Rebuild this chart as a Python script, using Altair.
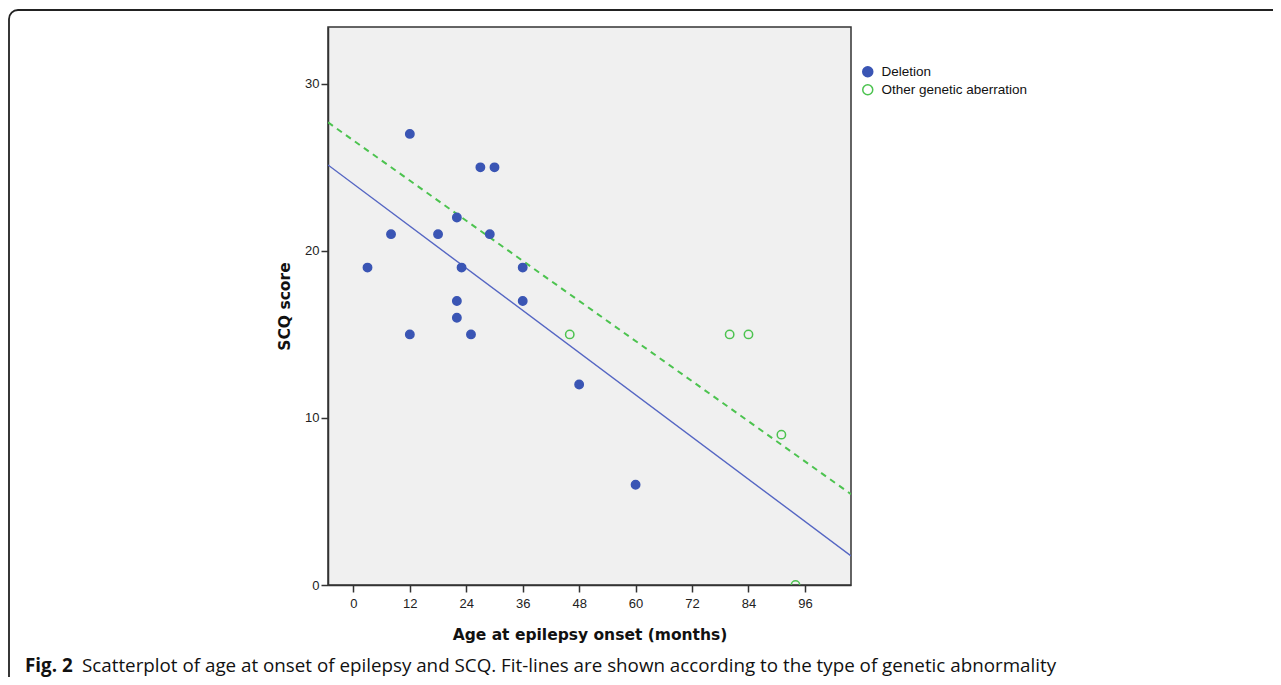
import altair as alt
import pandas as pd

# Data
del_x = [3, 8, 12, 12, 18, 22, 22, 22, 23, 25, 27, 30, 29, 36, 36, 48, 60]
del_y = [19, 21, 27, 15, 21, 22, 17, 16, 19, 15, 25, 25, 21, 19, 17, 12, 6]
oth_x = [46, 80, 84, 91, 94]
oth_y = [15, 15, 15, 9, 0]
groups = ["Deletion", "Other genetic aberration"]
x_ticks = [0, 12, 24, 36, 48, 60, 72, 84, 96]
y_ticks = [0, 10, 20, 30]
caption_bold = "Fig. 2"
caption_rest = ("Scatterplot of age at onset of epilepsy and SCQ. "
                "Fit-lines are shown according to the type of genetic abnormality")

BLUE = "#3A55B4"
GREEN = "#4CC34F"
LINE_BLUE = "#5566C3"

df = pd.DataFrame({
    "age": del_x + oth_x,
    "scq": del_y + oth_y,
    "group": [groups[0]] * len(del_x) + [groups[1]] * len(oth_x),
})

xdom = [-5.4, 105.8]
ydom = [0, 33.4]

xscale = alt.Scale(domain=xdom, nice=False, zero=False)
yscale = alt.Scale(domain=ydom, nice=False)

xaxis = alt.Axis(values=x_ticks, title="Age at epilepsy onset (months)", grid=False,
                 labelFont="Liberation Sans", labelFontSize=13, labelColor="#222",
                 titleFont="DejaVu Sans", titleFontWeight="bold", titleFontSize=15.5,
                 titleColor="#111", titlePadding=17, tickSize=7, tickColor="#333",
                 domainColor="#333", domainWidth=1.5, tickWidth=1.5, labelPadding=5)
yaxis = alt.Axis(values=y_ticks, title="SCQ score", grid=False,
                 labelFont="Liberation Sans", labelFontSize=13, labelColor="#222",
                 titleFont="DejaVu Sans", titleFontWeight="bold", titleFontSize=15.5,
                 titleColor="#111", titlePadding=12, tickSize=7, tickColor="#333",
                 domainColor="#333", domainWidth=1.5, tickWidth=1.5, labelPadding=2)

leg = alt.Legend(title=None, orient="none", legendX=533, legendY=38,
                 labelFont="Liberation Sans", labelFontSize=13.5,
                 labelColor="#111", symbolSize=100,
                 symbolStrokeWidth=1.5, rowPadding=1, labelOffset=7)

base = alt.Chart(df)

points = base.mark_point(size=70, strokeWidth=1.5, opacity=1, clip=True).encode(
    x=alt.X("age:Q", scale=xscale, axis=xaxis),
    y=alt.Y("scq:Q", scale=yscale, axis=yaxis),
    stroke=alt.Stroke("group:N", scale=alt.Scale(domain=groups, range=[BLUE, GREEN]),
                      legend=leg),
    fill=alt.Fill("group:N", scale=alt.Scale(domain=groups, range=[BLUE, "transparent"]),
                  legend=leg),
)

fit_del = base.transform_filter(alt.datum.group == groups[0]).transform_regression(
    "age", "scq", extent=xdom).mark_line(color=LINE_BLUE, strokeWidth=1.4, clip=True).encode(
    x=alt.X("age:Q", scale=xscale), y=alt.Y("scq:Q", scale=yscale))

fit_oth = base.transform_filter(alt.datum.group == groups[1]).transform_regression(
    "age", "scq", extent=xdom).mark_line(color=GREEN, strokeWidth=2, strokeDash=[6, 5],
                                          clip=True).encode(
    x=alt.X("age:Q", scale=xscale), y=alt.Y("scq:Q", scale=yscale))

cap_df = pd.DataFrame({"b": [caption_bold], "r": [caption_rest]})
cap_base = alt.Chart(cap_df)
cap1 = cap_base.mark_text(align="left", baseline="middle", font="Open Sans",
                          fontSize=18.8, fontWeight="bold", color="#111").encode(
    text="b:N", x=alt.value(25 - 328), y=alt.value(666 - 27))
cap2 = cap_base.mark_text(align="left", baseline="middle", font="Open Sans",
                          fontSize=18.8, color="#111").encode(
    text="r:N", x=alt.value(82 - 328), y=alt.value(666 - 27))
frame = cap_base.mark_rect(fill=None, stroke="#222", strokeWidth=1.8, cornerRadius=9).encode(
    x=alt.value(9 - 328), x2=alt.value(3000), y=alt.value(10 - 27), y2=alt.value(3000))

chart = alt.layer(fit_oth, fit_del, points, frame, cap1, cap2).properties(
    width=523, height=558,
    autosize=alt.AutoSizeParams(type="none"),
    padding={"left": 320, "top": 19, "right": 422, "bottom": 92},
    background="white",
).configure_view(fill="#F0F0F0", stroke="#333", strokeWidth=1.5)

chart.save("out.html", embed_options={"renderer": "svg", "actions": False})
